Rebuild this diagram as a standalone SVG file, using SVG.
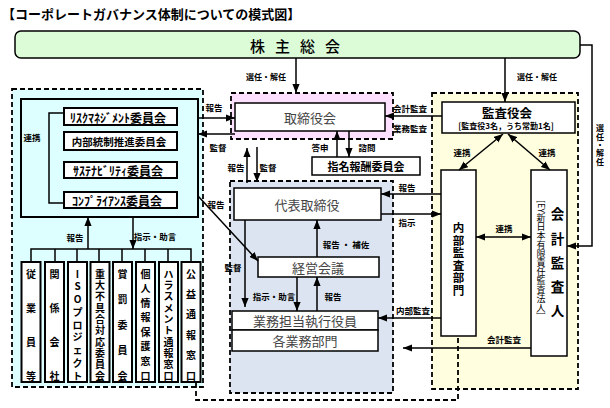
<svg xmlns="http://www.w3.org/2000/svg" width="610" height="408" viewBox="0 0 610 408">
<style>
text{font-family:"Noto Sans CJK JP","Noto Sans",sans-serif;fill:#000}
.t{font-size:13px;font-weight:bold}
.lb{font-size:8.5px;font-weight:bold;text-anchor:middle;dominant-baseline:central}
.bx{fill:#fff;stroke:#000;stroke-width:1.5}
.bx2{fill:#fff;stroke:#000;stroke-width:2}
.bt{font-size:12px;font-weight:bold;text-anchor:middle;dominant-baseline:central}
.st{font-size:13px;fill:#444;text-anchor:middle;dominant-baseline:central}
.vt{font-size:10px;font-weight:bold;text-anchor:middle;dominant-baseline:central}
.dash{stroke:#000;stroke-width:1.8;stroke-dasharray:5 3}
.ln{fill:none;stroke:#000;stroke-width:1.5}
.ar{fill:none;stroke:#000;stroke-width:1.5;marker-end:url(#ah)}
.ar2{fill:none;stroke:#000;stroke-width:1.5;marker-end:url(#ah);marker-start:url(#ah)}
</style>
<defs>
<marker id="ah" viewBox="0 0 10 8" refX="10" refY="4" markerWidth="9" markerHeight="7.5" markerUnits="userSpaceOnUse" orient="auto-start-reverse"><path d="M0,0 L10,4 L0,8 z" fill="#000"/></marker>
</defs>
<rect width="610" height="408" fill="#fff"/>
<text class="t" x="2" y="19">【コーポレートガバナンス体制についての模式図】</text>

<g id="grp-committees">
<rect x="12" y="89" width="191" height="298" style="fill:#ddffff" class="dash"/>
<rect x="21" y="99" width="177" height="118" fill="#ddffff" stroke="#000" stroke-width="2"/>
</g>
<g id="grp-board"><rect x="231" y="93" width="162" height="46" style="fill:#fde0fd" class="dash"/></g>
<g id="grp-exec"><rect x="230" y="181" width="163" height="212" style="fill:#dbe4f0" class="dash"/></g>
<g id="grp-audit"><rect x="432" y="93" width="146" height="296" style="fill:#ffffdf" class="dash"/></g>

<g id="shareholders">
<rect x="15" y="31" width="565" height="27" rx="6" fill="#dcfcd8" stroke="#000" stroke-width="1.5"/>
<text x="300" y="45" style="font-size:15px;font-weight:500;letter-spacing:10px;text-anchor:middle;dominant-baseline:central">株主総会</text>
</g>

<g id="risk"><rect class="bx2" x="64" y="108" width="113" height="17"/><text class="bt" x="118" y="117">ﾘｽｸﾏﾈｼﾞﾒﾝﾄ委員会</text></g>
<g id="internal-control"><rect class="bx2" x="64" y="132" width="113" height="18"/><text class="bt" x="119" y="141" style="font-size:10.5px">内部統制推進委員会</text></g>
<g id="sustain"><rect class="bx2" x="64" y="162" width="113" height="16"/><text class="bt" x="118" y="170">ｻｽﾃﾅﾋﾞﾘﾃｨ委員会</text></g>
<g id="compliance"><rect class="bx2" x="64" y="192" width="113" height="16"/><text class="bt" x="117" y="200">ｺﾝﾌﾟﾗｲｱﾝｽ委員会</text></g>

<g id="v1"><rect class="bx2" x="21.5" y="262" width="19" height="120"/><text class="vt" x="31 31 31 31" y="273 307 341 375">従業員等</text></g>
<g id="v2"><rect class="bx2" x="45" y="262" width="19" height="120"/><text class="vt" x="54.5 54.5 54.5 54.5" y="273 307 341 375">関係会社</text></g>
<g id="v3"><rect class="bx2" x="68" y="262" width="19" height="120"/><text class="vt" x="77.5 77.5 77.5 77.5 77.5 77.5 77.5 77.5 77.5" y="273 285.75 298.5 311.25 324 336.75 349.5 362.25 375">ISOプロジェクト</text></g>
<g id="v4"><rect class="bx2" x="90.5" y="262" width="19" height="120"/><text class="vt" x="100 100 100 100 100 100 100 100 100 100" y="273 284.3 295.7 307 318.3 329.7 341 352.3 363.7 375">重大不具合対応委員会</text></g>
<g id="v5"><rect class="bx2" x="113" y="262" width="19" height="120"/><text class="vt" x="122.5 122.5 122.5 122.5 122.5" y="273 298.5 324 349.5 375">賞罰委員会</text></g>
<g id="v6"><rect class="bx2" x="136" y="262" width="19" height="120"/><text class="vt" x="145.5 145.5 145.5 145.5 145.5 145.5 145.5 145.5" y="273 287.6 302.1 316.7 331.3 345.9 360.4 375">個人情報保護窓口</text></g>
<g id="v7"><rect class="bx2" x="159" y="262" width="19" height="120"/><text class="vt" x="168.5 168.5 168.5 168.5 168.5 168.5 168.5 168.5 168.5 168.5" y="273 284.3 295.7 307 318.3 329.7 341 352.3 363.7 375">ハラスメント通報窓口</text></g>
<g id="v8"><rect class="bx2" x="181.5" y="262" width="19" height="120"/><text class="vt" x="191 191 191 191 191 191" y="273 293.4 313.8 334.2 354.6 375">公益通報窓口</text></g>

<g id="board"><rect class="bx" x="235" y="103" width="150" height="28"/><text class="st" x="310" y="117">取締役会</text></g>
<g id="nomination"><rect class="bx" x="312" y="157" width="108" height="18"/><text class="bt" x="366" y="166" style="font-size:11px">指名報酬委員会</text></g>
<g id="ceo"><rect class="bx" x="234" y="188" width="147" height="32"/><text class="st" x="307" y="204">代表取締役</text></g>
<g id="mgmt"><rect class="bx" x="258" y="257" width="121" height="20"/><text class="st" x="318" y="267">経営会議</text></g>
<g id="officers"><rect class="bx" x="232" y="311" width="146" height="19"/><text class="st" x="305" y="320.5">業務担当執行役員</text></g>
<g id="depts"><rect class="bx" x="232" y="330" width="146" height="21"/><text class="st" x="305" y="340.5">各業務部門</text></g>

<g id="auditors"><rect class="bx" x="442" y="102" width="133" height="31"/>
<text x="507" y="112" style="font-size:12.5px;font-weight:bold;text-anchor:middle;dominant-baseline:central">監査役会</text>
<text x="506" y="125.5" style="font-size:8px;font-weight:bold;text-anchor:middle;dominant-baseline:central">[監査役3名，うち常勤1名]</text></g>
<g id="internal-audit"><rect class="bx" x="441" y="170" width="35" height="166"/>
<text x="458.5 458.5 458.5 458.5 458.5 458.5" y="227 239.5 252 264.5 277 289.5" style="font-size:11.5px;font-weight:bold;text-anchor:middle;dominant-baseline:central">内部監査部門</text></g>
<g id="accounting-auditor"><rect class="bx" x="531" y="170" width="36" height="186"/>
<text x="557.5 557.5 557.5 557.5 557.5" y="213 238 262 286 310" style="font-size:13.5px;font-weight:bold;text-anchor:middle;dominant-baseline:central">会計監査人</text>
<text x="541" y="200" style="font-size:9px;writing-mode:vertical-rl;dominant-baseline:central">[EY新日本有限責任監査法人]</text></g>

<g id="connectors">
<path class="ar" d="M296,58 V93"/>
<path class="ar" d="M505,58 V102"/>
<path class="ar" d="M580,45 H592 V246 H567"/>
<path class="ln" d="M64,113 H49 V203 H64"/>
<path class="ar" d="M198,118 H235"/>
<path class="ar" d="M235,134 H198"/>
<path class="ar" d="M88,249 V217"/>
<path class="ar" d="M133,217 V249"/>
<path class="ln" d="M31,262 V249 H191 V262 M55,249 V262 M77,249 V262 M99,249 V262 M122,249 V262 M145,249 V262 M168,249 V262"/>
<path class="ar" d="M247,183 V148"/>
<path class="ar" d="M257,147 V182"/>
<path class="ar" d="M337,157 V131"/>
<path class="ar" d="M349,131 V157"/>
<path class="ar" d="M442,116 H385"/>
<path class="ar2" d="M503,134 L459,170"/>
<path class="ar2" d="M508,134 L550,170"/>
<path class="ar2" d="M476,237 H531"/>
<path class="ar" d="M441,194 H381"/>
<path class="ar" d="M381,214 H441"/>
<path class="ar" d="M441,318 H378"/>
<path class="ar" d="M531,348 H403"/>
<path class="ar" d="M317,257 V220"/>
<path class="ar" d="M245,220 V307"/>
<path class="ar" d="M198,196 L258,261"/>
<path class="ar" d="M297,277 V311"/>
<path class="ar" d="M317,311 V277"/>
<path class="dash" style="fill:none" d="M196,383 V400 H458 V337"/>
</g>

<g id="labels">
<text class="lb" x="266" y="76" style="font-size:8px">選任・解任</text>
<text class="lb" x="537" y="76" style="font-size:8px">選任・解任</text>
<text class="lb" x="600 600 600 600 600" y="127 136 144 152 161" style="font-size:8px">選任・解任</text>
<text class="lb" x="214" y="107">報告</text>
<text class="lb" x="218" y="147">監督</text>
<text class="lb" x="32" y="137">連携</text>
<text class="lb" x="75" y="237">報告</text>
<text class="lb" x="155" y="236">指示・助言</text>
<text class="lb" x="236" y="167">報告</text>
<text class="lb" x="268" y="167">監督</text>
<text class="lb" x="216" y="204">報告</text>
<text class="lb" x="320" y="147">答申</text>
<text class="lb" x="367" y="147">諮問</text>
<text class="lb" x="410" y="108">会計監査</text>
<text class="lb" x="410" y="128">業務監査</text>
<text class="lb" x="462" y="152">連携</text>
<text class="lb" x="547" y="152">連携</text>
<text class="lb" x="407" y="187">報告</text>
<text class="lb" x="407" y="222">指示</text>
<text class="lb" x="504" y="228">連携</text>
<text class="lb" x="346" y="244">報告 ・ 補佐</text>
<text class="lb" x="233" y="267">監督</text>
<text class="lb" x="274" y="296">指示・助言</text>
<text class="lb" x="333" y="296">報告</text>
<text class="lb" x="413" y="310">内部監査</text>
<text class="lb" x="504" y="339">会計監査</text>
</g>
</svg>
